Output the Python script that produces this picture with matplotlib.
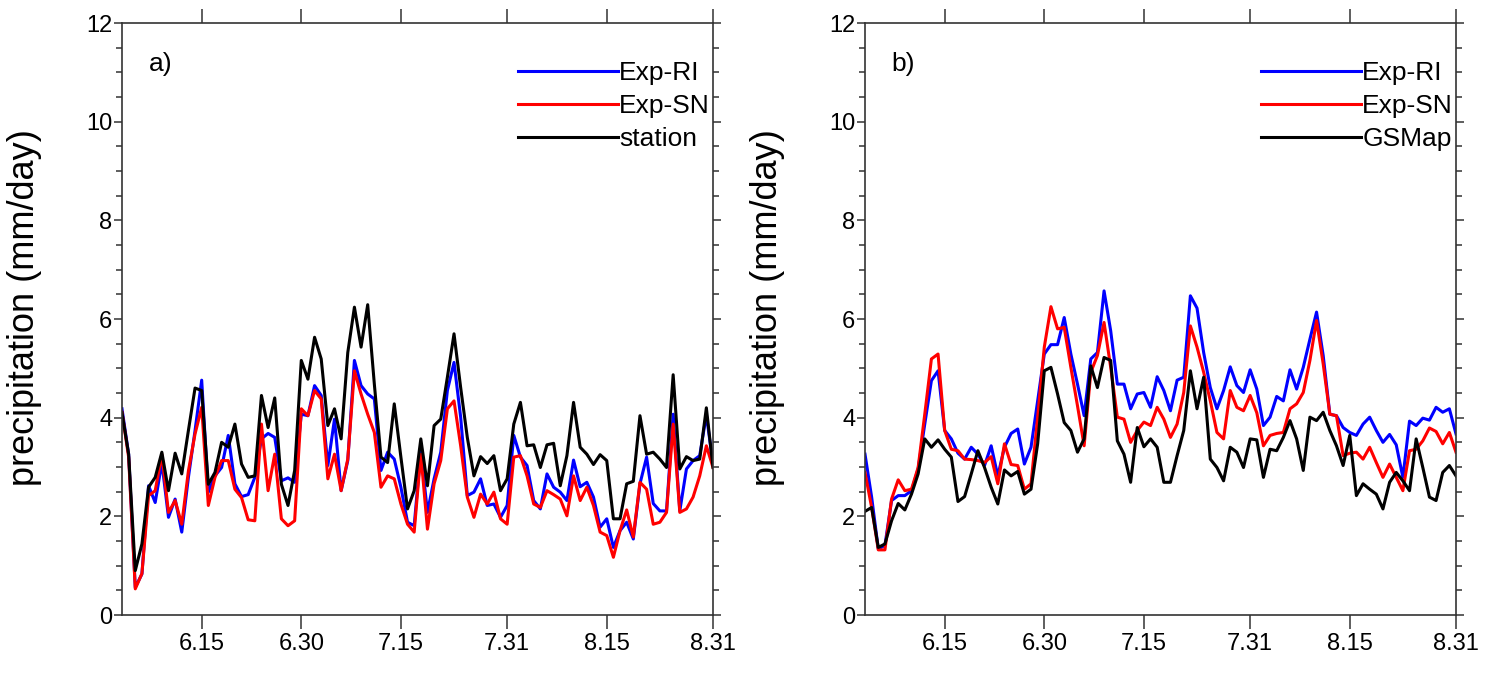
import numpy as np
import matplotlib
matplotlib.use("Agg")
import matplotlib.pyplot as plt
from matplotlib.ticker import MultipleLocator

plt.rcParams['font.family'] = ['Liberation Sans', 'DejaVu Sans']

# day of summer (June 1 = 1); data from June 3 to Aug 31
days = np.arange(3, 93)
tick_days = [15, 30, 45, 61, 76, 92]
tick_labels = ["6.15", "6.30", "7.15", "7.31", "8.15", "8.31"]

# Panel a
a_exp_ri = [4.18, 3.26, 0.56, 0.83, 2.62, 2.28, 3.09, 1.98, 2.35, 1.68, 2.79, 3.74, 4.76, 2.49, 2.82, 2.99, 3.64, 2.66, 2.40, 2.44,
            2.79, 3.57, 3.68, 3.60, 2.72, 2.78, 2.69, 4.07, 4.04, 4.65,
            4.45, 3.03, 3.97, 2.52, 3.13, 5.16, 4.65, 4.48, 4.38, 2.93, 3.30, 3.16, 2.59, 1.88, 1.81, 3.33, 2.08, 2.76, 3.30, 4.55,
            5.12, 4.01, 2.42, 2.49, 2.76, 2.22, 2.25, 1.98, 2.22,
            3.64, 3.20, 3.03, 2.32, 2.15, 2.86, 2.59, 2.49, 2.32, 3.14, 2.60, 2.69, 2.39, 1.78, 1.95, 1.37, 1.71, 1.88, 1.54, 2.66,
            3.20, 2.26, 2.11, 2.11, 4.07, 2.11, 2.96, 3.13, 3.23, 4.06, 3.06]
a_exp_sn = [4.11, 3.20, 0.53, 0.84, 2.42, 2.52, 3.26, 2.08, 2.32, 1.84, 2.92, 3.67, 4.21, 2.22, 2.79, 3.13, 3.13, 2.55, 2.38, 1.93,
            1.91, 3.87, 2.52, 3.26, 1.95, 1.81, 1.91, 4.18, 4.04, 4.55,
            4.38, 2.76, 3.26, 2.52, 3.16, 4.95, 4.48, 4.07, 3.70, 2.59, 2.82, 2.76, 2.25, 1.84, 1.68, 3.26, 1.74, 2.66, 3.13, 4.18,
            4.34, 3.43, 2.39, 1.98, 2.45, 2.25, 2.49, 1.95, 1.84,
            3.20, 3.23, 2.82, 2.25, 2.18, 2.52, 2.44, 2.35, 2.01, 2.82, 2.32, 2.59, 2.22, 1.68, 1.61, 1.17, 1.71, 2.13, 1.58, 2.69,
            2.55, 1.84, 1.88, 2.08, 3.87, 2.08, 2.15, 2.39, 2.82, 3.43, 2.99]
a_station = [4.10, 3.26, 0.90, 1.44, 2.59, 2.79, 3.30, 2.52, 3.28, 2.86, 3.74, 4.60, 4.55, 2.65, 2.89, 3.50, 3.40, 3.87, 3.06, 2.79,
             2.82, 4.45, 3.80, 4.40, 2.65, 2.22, 2.93, 5.16, 4.78, 5.63,
             5.19, 3.84, 4.18, 3.57, 5.32, 6.24, 5.43, 6.29, 4.68, 3.20, 3.09, 4.28, 3.20, 2.15, 2.52, 3.57, 2.62, 3.84, 3.97, 4.82,
             5.70, 4.61, 3.60, 2.82, 3.21, 3.07, 3.23, 2.52, 2.76,
             3.87, 4.31, 3.43, 3.45, 2.99, 3.45, 3.48, 2.62, 3.23, 4.31, 3.40, 3.26, 3.05, 3.25, 3.13, 1.95, 1.95, 2.66, 2.71, 4.04,
             3.26, 3.30, 3.16, 2.99, 4.87, 2.96, 3.21, 3.13, 3.16, 4.20, 2.99]

# Panel b
b_exp_ri = [3.26, 2.39, 1.34, 1.41, 2.32, 2.42, 2.42, 2.52, 2.96, 3.87, 4.75, 4.95, 3.74, 3.57, 3.28, 3.16, 3.40, 3.26, 3.03, 3.43,
            2.82, 3.40, 3.68, 3.77, 3.06, 3.40, 4.34, 5.29, 5.48, 5.48, 6.03,
            5.29, 4.68, 4.04, 5.19, 5.32, 6.57, 5.76, 4.68, 4.68, 4.18, 4.48, 4.51, 4.21, 4.83, 4.55, 4.14, 4.76, 4.82, 6.47,
            6.22, 5.32, 4.61, 4.18, 4.55, 5.03, 4.65, 4.51, 4.97,
            4.58, 3.84, 4.01, 4.43, 4.34, 4.97, 4.58, 5.02, 5.59, 6.14, 5.26, 4.07, 4.04, 3.80, 3.70, 3.64, 3.87, 4.01, 3.74, 3.50,
            3.66, 3.45, 2.79, 3.93, 3.84, 3.99, 3.95, 4.21, 4.11, 4.18, 3.67]
b_exp_sn = [2.89, 2.18, 1.32, 1.32, 2.35, 2.74, 2.52, 2.55, 2.99, 4.07, 5.19, 5.29, 3.74, 3.36, 3.33, 3.16, 3.15, 3.13, 3.09, 3.21,
            2.66, 3.47, 3.05, 3.03, 2.55, 2.66, 4.01, 5.43, 6.25, 5.80, 5.83,
            5.02, 4.24, 3.43, 4.92, 5.26, 5.93, 5.02, 4.01, 3.97, 3.50, 3.74, 3.91, 3.84, 4.21, 3.97, 3.60, 3.87, 4.51, 5.86,
            5.43, 4.92, 4.34, 3.70, 3.57, 4.55, 4.21, 4.14, 4.45,
            4.10, 3.43, 3.64, 3.68, 3.70, 4.18, 4.28, 4.51, 5.16, 5.97, 5.09, 4.07, 4.04, 3.23, 3.28, 3.30, 3.16, 3.40, 3.09, 2.79,
            3.06, 2.79, 2.52, 3.33, 3.36, 3.53, 3.79, 3.72, 3.47, 3.70, 3.30]
b_gsmap = [2.10, 2.18, 1.37, 1.44, 1.91, 2.26, 2.13, 2.45, 2.86, 3.57, 3.40, 3.55, 3.36, 3.20, 2.30, 2.40, 2.86, 3.33, 2.99, 2.59,
           2.25, 2.94, 2.82, 2.91, 2.45, 2.55, 3.47, 4.95, 5.02, 4.48, 3.90,
           3.74, 3.30, 3.57, 5.05, 4.61, 5.22, 5.16, 3.53, 3.26, 2.69, 3.80, 3.41, 3.57, 3.40, 2.69, 2.69, 3.23, 3.74, 4.95,
           4.18, 4.82, 3.16, 2.99, 2.72, 3.40, 3.30, 2.99, 3.57,
           3.55, 2.79, 3.36, 3.33, 3.60, 3.94, 3.57, 2.93, 4.01, 3.94, 4.11, 3.74, 3.43, 3.03, 3.64, 2.42, 2.66, 2.55, 2.45, 2.15,
           2.69, 2.89, 2.72, 2.52, 3.57, 2.99, 2.39, 2.32, 2.89, 3.03, 2.82]

panels = [
    ("a)", [("Exp-RI", a_exp_ri, "#0000ff"), ("Exp-SN", a_exp_sn, "#ff0000"), ("station", a_station, "black")]),
    ("b)", [("Exp-RI", b_exp_ri, "#0000ff"), ("Exp-SN", b_exp_sn, "#ff0000"), ("GSMap", b_gsmap, "black")]),
]

fig = plt.figure(figsize=(15, 6.8), dpi=100)
lefts = [122 / 1500, 865 / 1500]
width = 591 / 1500
bottom = 1 - 615 / 680
height = (615 - 23) / 680

for (tag, series), left in zip(panels, lefts):
    ax = fig.add_axes([left, bottom, width, height])
    for name, vals, col in series:
        ax.plot(days, vals, color=col, lw=2.2, label=name, solid_joinstyle='round')
    ax.set_xlim(3, 92)
    ax.set_ylim(0, 12)
    ax.set_xticks(tick_days)
    ax.set_xticklabels(tick_labels)
    ax.yaxis.set_major_locator(MultipleLocator(2))
    ax.yaxis.set_minor_locator(MultipleLocator(0.5))
    ax.tick_params(axis='both', which='both', direction='out', top=True, right=True,
                   labelsize=17, width=1.1, color='#333333')
    ax.tick_params(axis='x', which='major', length=10, pad=3)
    ax.tick_params(axis='y', which='major', length=5.5, pad=1.5)
    ax.tick_params(axis='y', which='minor', length=4)
    for sp in ax.spines.values():
        sp.set_linewidth(1.2)
        sp.set_color('#333333')
    ax.set_ylabel("precipitation (mm/day)", fontsize=26)
    ax.yaxis.set_label_coords(-0.136, 0.519)
    ax.text(0.045, 0.93, tag, transform=ax.transAxes, fontsize=19, va='center', ha='left')
    leg = ax.legend(loc='upper right', frameon=False, fontsize=19, handlelength=3.8,
                    handletextpad=0.05, labelspacing=0.34, borderaxespad=0.0, borderpad=0.0,
                    bbox_to_anchor=(0.995, 0.935))
    for ln in leg.get_lines():
        ln.set_linewidth(2.2)

fig.savefig("out.png", dpi=100)
